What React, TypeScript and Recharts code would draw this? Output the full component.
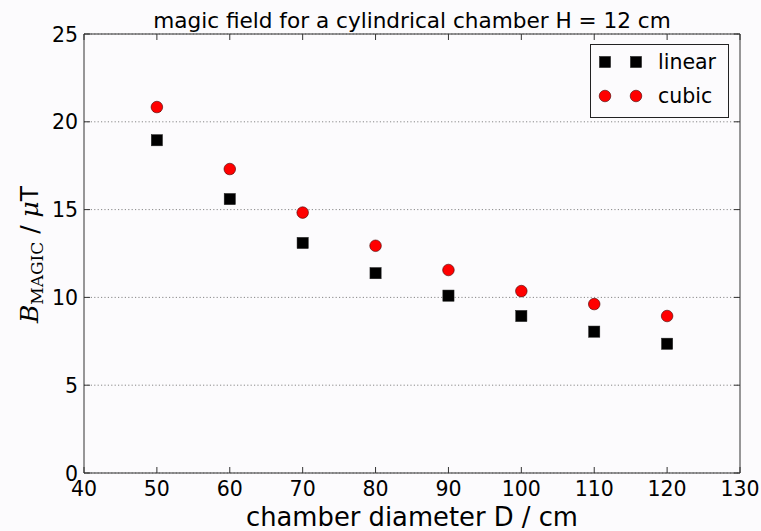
import React from 'react';
import { ScatterChart, Scatter, XAxis, YAxis, CartesianGrid, Legend } from 'recharts';

// chamber diameter D in cm
const diameters = [50, 60, 70, 80, 90, 100, 110, 120];
// magic field in uT
const linearField = [18.95, 15.6, 13.1, 11.38, 10.1, 8.94, 8.05, 7.36];
const cubicField = [20.84, 17.31, 14.83, 12.94, 11.56, 10.36, 9.62, 8.94];

const xTicks = [40, 50, 60, 70, 80, 90, 100, 110, 120, 130];
const yTicks = [0, 5, 10, 15, 20, 25];

const seriesNames = ['linear', 'cubic'];

const linearData = diameters.map((d, i) => ({ d, b: linearField[i] }));
const cubicData = diameters.map((d, i) => ({ d, b: cubicField[i] }));

const FONT = '"DejaVu Sans", sans-serif';
const SERIF = '"DejaVu Serif", serif';
const SPINE = '#333';
const TICK_LEN = 6;

const Square = (p: any) => (
  <rect x={p.cx - 5.6} y={p.cy - 5.6} width={11.2} height={11.2} fill="#000" stroke="#222" strokeWidth={0.5} />
);
const Dot = (p: any) => (
  <circle cx={p.cx} cy={p.cy} r={5.8} fill="#ff0000" stroke="#400" strokeWidth={0.6} />
);

const BottomTick = (p: any) => (
  <g>
    <line x1={p.x} x2={p.x} y1={p.y} y2={p.y - TICK_LEN} stroke={SPINE} strokeWidth={1} />
    <text x={p.x} y={p.y + 23} textAnchor="middle" fontSize={20.5} fontFamily={FONT} fill="#000">
      {p.payload.value}
    </text>
  </g>
);
const TopTick = (p: any) => (
  <line x1={p.x} x2={p.x} y1={p.y} y2={p.y + TICK_LEN} stroke={SPINE} strokeWidth={1} />
);
const LeftTick = (p: any) => (
  <g>
    <line x1={p.x} x2={p.x + TICK_LEN} y1={p.y} y2={p.y} stroke={SPINE} strokeWidth={1} />
    <text x={p.x - 6} y={p.y + 7.5} textAnchor="end" fontSize={20.5} fontFamily={FONT} fill="#000">
      {p.payload.value}
    </text>
  </g>
);
const RightTick = (p: any) => (
  <line x1={p.x} x2={p.x - TICK_LEN} y1={p.y} y2={p.y} stroke={SPINE} strokeWidth={1} />
);

const LegendBox = () => (
  <svg width={140} height={75}>
    <rect x={0.5} y={0.5} width={138} height={73} fill="#fcfbfd" stroke="#222" strokeWidth={1} />
    {seriesNames.map((name, i) => {
      const cy = 18 + i * 34;
      return (
        <g key={name}>
          {[15, 46].map((cx) =>
            i === 0 ? <Square key={cx} cx={cx} cy={cy} /> : <Dot key={cx} cx={cx} cy={cy} />
          )}
          <text x={68} y={cy + 7} fontSize={20.5} fontFamily={FONT} fill="#000">
            {name}
          </text>
        </g>
      );
    })}
  </svg>
);

const App = () => (
  <div style={{ position: 'absolute', left: 0, top: 0, width: 761, height: 531, background: '#fcfbfd' }}>
    <ScatterChart width={761} height={531} margin={{ top: 33, right: 20, bottom: 0, left: 0 }}>
      <CartesianGrid vertical={false} stroke="#888" strokeDasharray="1.2 2.2" />
      <XAxis
        dataKey="d"
        type="number"
        domain={[40, 130]}
        ticks={xTicks}
        height={58}
        stroke={SPINE}
        tickLine={false}
        tickSize={0}
        tickMargin={0}
        tick={<BottomTick />}
        label={{
          content: (lp: any) => (
            <text
              x={lp.viewBox.x + lp.viewBox.width / 2}
              y={lp.viewBox.y + 53}
              textAnchor="middle"
              fontSize={25.8}
              fontFamily={FONT}
              fill="#000"
            >
              chamber diameter D / cm
            </text>
          ),
        }}
      />
      <XAxis
        xAxisId="top"
        orientation="top"
        dataKey="d"
        type="number"
        domain={[40, 130]}
        allowDataOverflow
        ticks={xTicks}
        height={1}
        stroke={SPINE}
        tickLine={false}
        tickSize={0}
        tickMargin={0}
        tick={<TopTick />}
        label={{
          content: (lp: any) => (
            <text
              x={lp.viewBox.x + lp.viewBox.width / 2}
              y={lp.viewBox.y - 5}
              textAnchor="middle"
              fontSize={21.6}
              fontFamily={FONT}
              fill="#000"
            >
              magic field for a cylindrical chamber H = 12 cm
            </text>
          ),
        }}
      />
      <YAxis
        dataKey="b"
        type="number"
        domain={[0, 25]}
        ticks={yTicks}
        width={84}
        stroke={SPINE}
        tickLine={false}
        tickSize={0}
        tickMargin={0}
        tick={<LeftTick />}
        label={{
          content: (lp: any) => {
            const cx = 38;
            const cy = lp.viewBox.y + lp.viewBox.height / 2 + 1;
            return (
              <text
                x={cx}
                y={cy}
                transform={`rotate(-90 ${cx} ${cy})`}
                textAnchor="middle"
                fontSize={25}
                fontFamily={FONT}
                fill="#000"
              >
                <tspan fontFamily={SERIF} fontStyle="italic">B</tspan>
                <tspan fontFamily={SERIF} fontSize={17} dy={5}>MAGIC</tspan>
                <tspan dy={-5}>{'\u00a0/\u00a0'}</tspan>
                <tspan fontFamily={SERIF} fontStyle="italic">μ</tspan>
                <tspan>T</tspan>
              </text>
            );
          },
        }}
      />
      <YAxis
        yAxisId="right"
        orientation="right"
        dataKey="b"
        type="number"
        domain={[0, 25]}
        allowDataOverflow
        ticks={yTicks}
        width={1}
        stroke={SPINE}
        tickLine={false}
        tickSize={0}
        tickMargin={0}
        tick={<RightTick />}
      />
      <Legend
        verticalAlign="middle"
        layout="horizontal"
        content={<LegendBox />}
        wrapperStyle={{ position: 'absolute', left: 590, top: 44, width: 140, height: 75 }}
      />
      <Scatter name={seriesNames[0]} data={linearData} shape={<Square />} isAnimationActive={false} />
      <Scatter
        name={seriesNames[1]}
        data={cubicData}
        xAxisId="top"
        yAxisId="right"
        shape={<Dot />}
        isAnimationActive={false}
      />
    </ScatterChart>
  </div>
);

export default App;
